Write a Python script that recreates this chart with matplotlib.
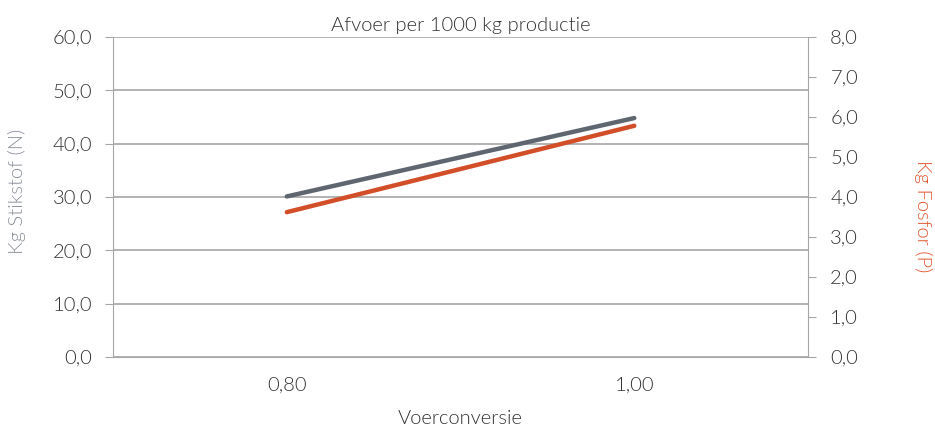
import matplotlib.pyplot as plt
import numpy as np

plt.rcParams['font.family'] = ['Lato', 'DejaVu Sans']
plt.rcParams['font.weight'] = 300
plt.rcParams['axes.titleweight'] = 300
plt.rcParams['axes.labelweight'] = 300

# data
categories = ['0,80', '1,00']
stikstof = [30.1, 44.8]   # kg N, left axis
fosfor = [3.62, 5.78]     # kg P, right axis

grey = '#5f6670'
orange = '#d24e28'
axcol = '#a6a6a6'
txt = '#333333'

fig = plt.figure(figsize=(9.35, 4.3), dpi=100)
ax = fig.add_axes([0.1209, 0.1698, 0.7433, 0.7442])
ax2 = ax.twinx()

x = np.arange(len(categories))
ax.plot(x, stikstof, color=grey, lw=3.2, solid_capstyle='round', zorder=3)
ax2.plot(x, fosfor, color=orange, lw=3.2, solid_capstyle='round', zorder=3)

ax.set_xlim(-0.5, len(categories) - 0.5)
ax.set_xticks(x)
ax.set_xticklabels(categories)
ax.set_ylim(0, 60)
ax.set_yticks(np.arange(0, 61, 10))
ax.set_yticklabels([f'{v:.1f}'.replace('.', ',') for v in np.arange(0, 61, 10)])
ax2.set_ylim(0, 8)
ax2.set_yticks(np.arange(0, 9, 1))
ax2.set_yticklabels([f'{v:.1f}'.replace('.', ',') for v in np.arange(0, 9, 1)])

ax.grid(axis='y', color=axcol, lw=1.2)
ax.set_axisbelow(True)

for a in (ax, ax2):
    for s in a.spines.values():
        s.set_visible(False)
ax.spines['left'].set_visible(True)
ax.spines['left'].set_color(axcol)
ax.spines['bottom'].set_visible(True)
ax.spines['bottom'].set_color(axcol)
ax2.spines['right'].set_visible(True)
ax2.spines['right'].set_color(axcol)

ax.tick_params(axis='y', direction='out', length=6, color=axcol, labelsize=14.5, labelcolor=txt, pad=9)
ax.tick_params(axis='x', length=0, labelsize=14.5, labelcolor=txt, pad=14)
ax2.tick_params(axis='y', direction='out', length=6, color=axcol, labelsize=14.5, labelcolor=txt, pad=10)

ax.set_xlabel('Voerconversie', fontsize=14.5, color=txt, labelpad=12)
ax.set_ylabel('Kg Stikstof (N)', fontsize=14.5, color='#8c9199', va='center')
ax.yaxis.set_label_coords(-0.138, 0.516)
ax2.set_ylabel('Kg Fosfor (P)', fontsize=14.5, color='#e0552f', rotation=270, va='center')
ax2.yaxis.set_label_coords(1.165, 0.44)
ax.set_title('Afvoer per 1000 kg productie', fontsize=14.5, color=txt, pad=4)

fig.savefig('out.png', dpi=100)
